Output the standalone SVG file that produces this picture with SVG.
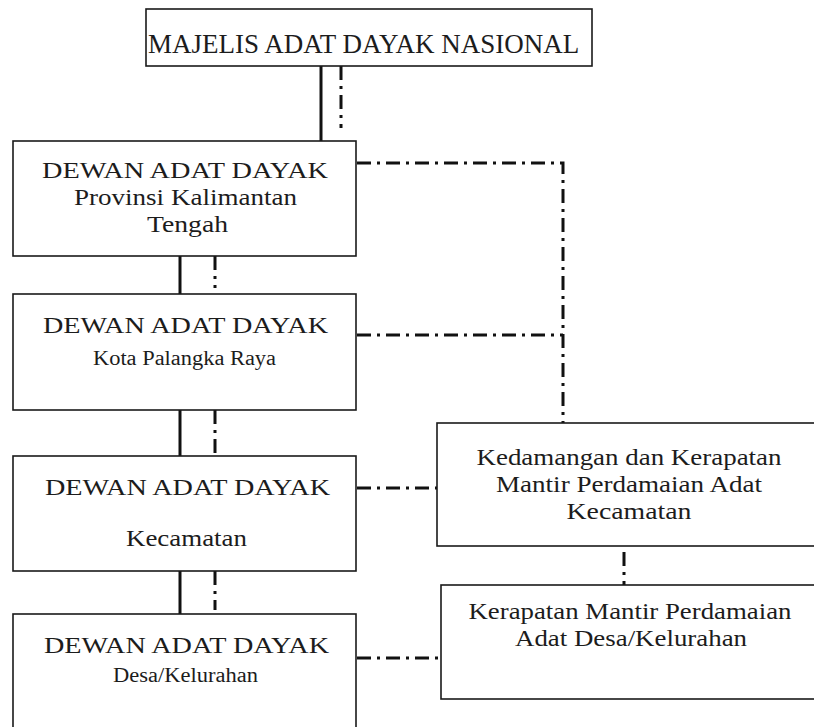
<svg xmlns="http://www.w3.org/2000/svg" width="814" height="727" viewBox="0 0 814 727">
<style>
.box{fill:#fff;stroke:#1a1a1a;stroke-width:1.6}
.t{font-family:"Liberation Serif","Times New Roman",serif;fill:#1c1c1c}
.r{font-family:"Liberation Serif","Times New Roman",serif;fill:#1c1c1c;font-size:23px;text-anchor:middle}
.solid{stroke:#111;stroke-width:3;fill:none}
.dd{stroke:#111;stroke-width:3;fill:none;stroke-dasharray:14 6 3 6}
</style>
<rect width="814" height="727" fill="#fff"/>
<g id="connectors">
<line class="solid" x1="321" y1="66" x2="321" y2="141"/>
<line class="dd" x1="341" y1="66" x2="341" y2="128"/>
<line class="solid" x1="180" y1="256" x2="180" y2="294"/>
<line class="dd" x1="215" y1="256" x2="215" y2="288"/>
<line class="solid" x1="180" y1="410" x2="180" y2="456"/>
<line class="dd" x1="215" y1="410" x2="215" y2="456"/>
<line class="solid" x1="180" y1="571" x2="180" y2="614"/>
<line class="dd" x1="215" y1="571" x2="215" y2="610"/>
<polyline class="dd" points="357,163 563,163 563,423"/>
<line class="dd" x1="357" y1="335" x2="563" y2="335"/>
<line class="dd" x1="357" y1="488" x2="437" y2="488"/>
<line class="dd" x1="357" y1="658" x2="441" y2="658"/>
<line class="dd" x1="624" y1="552" x2="624" y2="585"/>
</g>
<g id="majelis">
<rect class="box" x="146" y="9" width="446" height="57"/>
<text class="t" x="148" y="53" font-size="27">MAJELIS ADAT DAYAK NASIONAL</text>
</g>
<g id="dad-provinsi">
<rect class="box" x="13" y="141" width="343" height="115"/>
<text class="t" x="42" y="178" font-size="24" textLength="286" lengthAdjust="spacingAndGlyphs">DEWAN ADAT DAYAK</text>
<text class="t" x="74" y="205" font-size="24" textLength="223" lengthAdjust="spacingAndGlyphs">Provinsi Kalimantan</text>
<text class="t" x="147" y="232" font-size="24" textLength="81" lengthAdjust="spacingAndGlyphs">Tengah</text>
</g>
<g id="dad-kota">
<rect class="box" x="13" y="294" width="343" height="116"/>
<text class="t" x="43" y="333" font-size="24" textLength="285" lengthAdjust="spacingAndGlyphs">DEWAN ADAT DAYAK</text>
<text class="t" x="93" y="365" font-size="20" textLength="183" lengthAdjust="spacingAndGlyphs">Kota Palangka Raya</text>
</g>
<g id="dad-kecamatan">
<rect class="box" x="13" y="456" width="343" height="115"/>
<text class="t" x="45" y="495" font-size="24" textLength="285" lengthAdjust="spacingAndGlyphs">DEWAN ADAT DAYAK</text>
<text class="t" x="126" y="546" font-size="24" textLength="121" lengthAdjust="spacingAndGlyphs">Kecamatan</text>
</g>
<g id="dad-desa">
<rect class="box" x="13" y="614" width="343" height="130"/>
<text class="t" x="44" y="653" font-size="24" textLength="285" lengthAdjust="spacingAndGlyphs">DEWAN ADAT DAYAK</text>
<text class="t" x="113" y="682" font-size="20" textLength="145" lengthAdjust="spacingAndGlyphs">Desa/Kelurahan</text>
</g>
<g id="kedamangan">
<rect class="box" x="437" y="423" width="400" height="123"/>
<text class="r" x="629" y="465" textLength="305" lengthAdjust="spacingAndGlyphs">Kedamangan dan Kerapatan</text>
<text class="r" x="629" y="492" textLength="266" lengthAdjust="spacingAndGlyphs">Mantir Perdamaian Adat</text>
<text class="r" x="629" y="519" textLength="125" lengthAdjust="spacingAndGlyphs">Kecamatan</text>
</g>
<g id="kerapatan-desa">
<rect class="box" x="441" y="585" width="400" height="114"/>
<text class="r" x="630" y="619" textLength="323" lengthAdjust="spacingAndGlyphs">Kerapatan Mantir Perdamaian</text>
<text class="r" x="631" y="646" textLength="232" lengthAdjust="spacingAndGlyphs">Adat Desa/Kelurahan</text>
</g>
</svg>
